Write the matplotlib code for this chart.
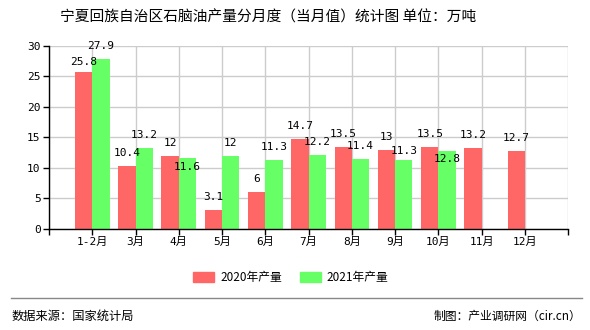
import matplotlib
matplotlib.use("Agg")
import matplotlib.pyplot as plt
import numpy as np

plt.rcParams['font.family'] = ['Noto Sans CJK SC', 'DejaVu Sans']

# 月度产量（万吨）
months = ['1-2月', '3月', '4月', '5月', '6月', '7月', '8月', '9月', '10月', '11月', '12月']
prod_2020 = [25.8, 10.4, 12, 3.1, 6, 14.7, 13.5, 13, 13.5, 13.2, 12.7]
prod_2021 = [27.9, 13.2, 11.6, 12, 11.3, 12.2, 11.4, 11.3, 12.8, None, None]
yticks = [0, 5, 10, 15, 20, 25, 30]

RED = '#ff6666'
GREEN = '#66ff66'
num_font = ['DejaVu Sans Mono', 'Noto Sans CJK SC']

# label offsets in px (label centre above bar top); a few are nudged
lift_2020 = {0: 10}
lift_2021 = {2: -9, 7: 9, 8: -8}

fig = plt.figure(figsize=(5.9, 3.3), dpi=100)
ax = fig.add_axes([0.083, 0.306, 0.88, 0.555])

x = np.arange(len(months))
w = 0.4
px = 0.72  # points per pixel at 100 dpi

for i, v in enumerate(prod_2020):
    ax.bar(x[i] - w / 2, v, w, color=RED, zorder=2)
    ax.annotate(f'{v:g}', (x[i] - w / 2, v), xytext=(0, lift_2020.get(i, 13) * px),
                textcoords='offset points', ha='center', va='center',
                fontsize=8, family=num_font, zorder=3)
for i, v in enumerate(prod_2021):
    if v is None:
        continue
    ax.bar(x[i] + w / 2, v, w, color=GREEN, zorder=2)
    ax.annotate(f'{v:g}', (x[i] + w / 2, v), xytext=(0, lift_2021.get(i, 13) * px),
                textcoords='offset points', ha='center', va='center',
                fontsize=8, family=num_font, zorder=3)

ax.set_xlim(-1, 11)
ax.set_ylim(0, 30)
ax.set_yticks(yticks)
ax.set_yticklabels([str(t) for t in yticks], family=num_font, fontsize=8)
ax.set_xticks(np.arange(-1, 12))
ax.set_xticklabels([''] + months + [''], fontsize=8, family=num_font)
ax.tick_params(axis='both', length=4, width=1, color='black', pad=2)
ax.grid(True, color='#cccccc', lw=1, zorder=0)
for s in ['top', 'right']:
    ax.spines[s].set_visible(False)
for s in ['left', 'bottom']:
    ax.spines[s].set_linewidth(1)
    ax.spines[s].set_color('black')

fig.text(0.455, 0.948, '宁夏回族自治区石脑油产量分月度（当月值）统计图 单位：万吨',
         ha='center', va='center', fontsize=10.6)

# legend
h1 = plt.Rectangle((0, 0), 1, 1, color=RED)
h2 = plt.Rectangle((0, 0), 1, 1, color=GREEN)
fig.legend([h1, h2], ['2020年产量', '2021年产量'], loc='center',
           bbox_to_anchor=(0.493, 0.16), ncol=2, frameon=False, fontsize=8.5,
           handlelength=1.8, handleheight=0.9, columnspacing=1.5, handletextpad=0.5)

fig.add_artist(plt.Line2D([0.019, 0.986], [0.097, 0.097], color='#888888', lw=1))
fig.text(0.019, 0.042, '数据来源：国家统计局', ha='left', va='center', fontsize=8.8)
fig.text(0.986, 0.042, '制图：产业调研网（cir.cn）', ha='right', va='center', fontsize=8.5)

fig.savefig('out.png', dpi=100)
